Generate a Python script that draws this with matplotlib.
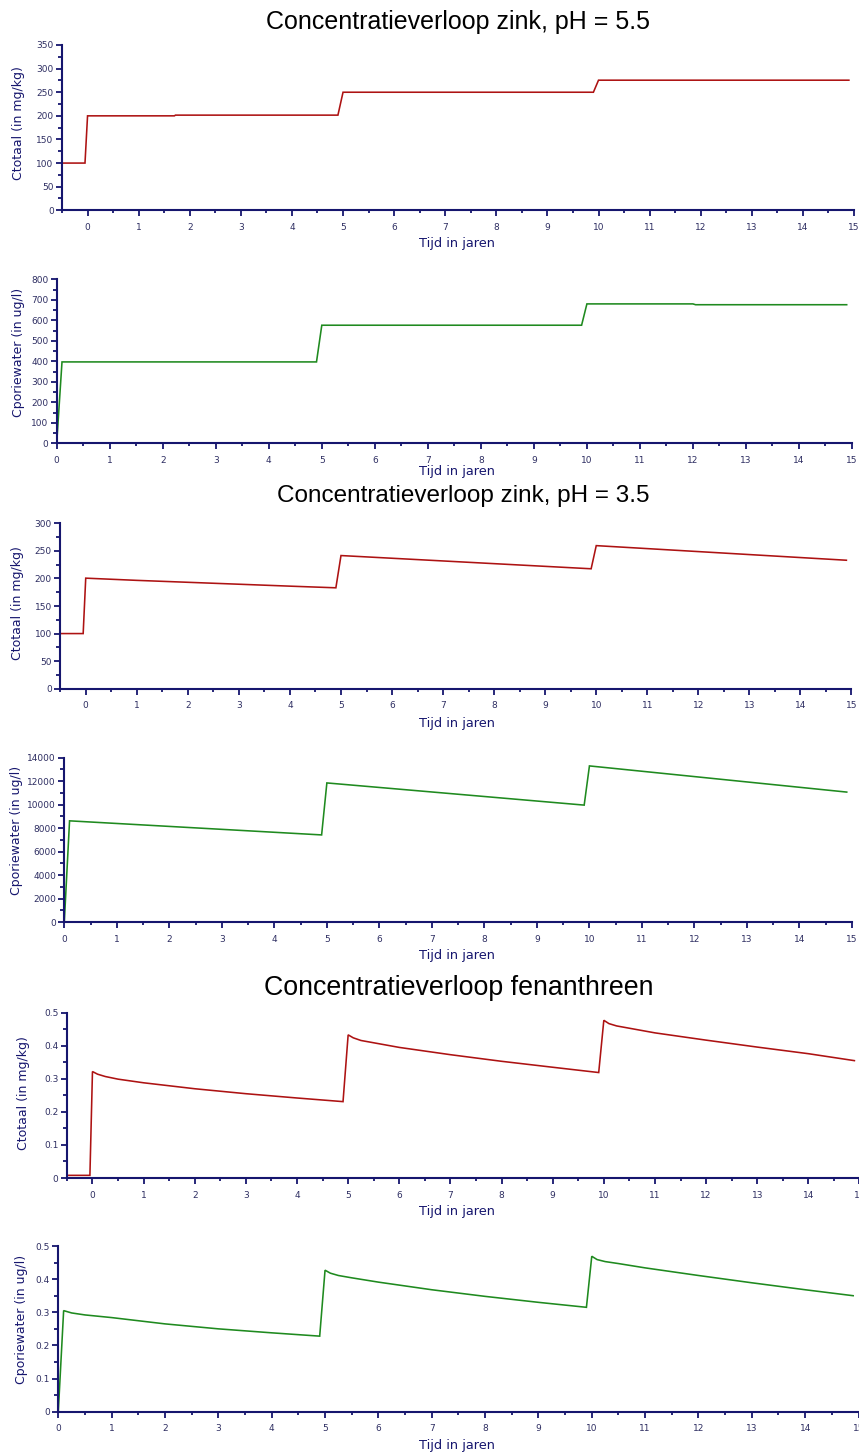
import matplotlib
matplotlib.use("Agg")
import matplotlib.pyplot as plt
from matplotlib.ticker import MultipleLocator, FuncFormatter

W, H = 859, 1455

# ---------------- data ----------------
titles = ["Concentratieverloop zink, pH = 5.5",
          "Concentratieverloop zink, pH = 3.5",
          "Concentratieverloop fenanthreen"]
xlabel = "Tijd in jaren"
ylabel_tot = "Ctotaal (in mg/kg)"
ylabel_pw = "Cporiewater (in ug/l)"

t_zn55_tot = [-0.5, -0.05, 0.0, 1.7, 1.72, 4.9, 5.0, 9.9, 10.0, 14.9]
c_zn55_tot = [100, 100, 200, 200, 201.5, 201.5, 250, 250, 275.5, 275.5]

t_zn55_pw = [0.0, 0.1, 4.9, 5.0, 9.9, 10.0, 12.0, 12.05, 14.9]
c_zn55_pw = [0, 397, 397, 576, 576, 680, 680, 676, 676]

t_zn35_tot = [-0.5, -0.05, 0.0, 1, 2, 3, 4, 4.9, 5.0, 9.9, 10.0, 14.9]
c_zn35_tot = [100, 100, 200.5, 196.5, 193, 189.5, 186, 183, 241.5, 217.5, 259.5, 233]

t_zn35_pw = [0.0, 0.1, 4.9, 5.0, 9.9, 10.0, 14.9]
c_zn35_pw = [0, 8620, 7420, 11850, 9960, 13300, 11070]

t_fen_tot = [-0.5, -0.05, 0.0, 0.1, 0.25, 0.5, 1, 2, 3, 4, 4.9,
             5.0, 5.1, 5.25, 5.5, 6, 7, 8, 9, 9.9,
             10.0, 10.1, 10.25, 10.5, 11, 12, 13, 14, 14.9]
c_fen_tot = [0.008, 0.008, 0.322, 0.314, 0.307, 0.299, 0.288, 0.270, 0.255, 0.242, 0.231,
             0.433, 0.424, 0.416, 0.409, 0.395, 0.373, 0.353, 0.335, 0.319,
             0.477, 0.467, 0.460, 0.453, 0.439, 0.417, 0.396, 0.376, 0.355]

t_fen_pw = [0.0, 0.1, 0.25, 0.5, 1, 2, 3, 4, 4.9,
            5.0, 5.1, 5.25, 5.5, 6, 7, 8, 9, 9.9,
            10.0, 10.1, 10.25, 10.5, 11, 12, 13, 14, 14.9]
c_fen_pw = [0, 0.305, 0.298, 0.292, 0.284, 0.265, 0.250, 0.238, 0.228,
            0.427, 0.418, 0.411, 0.404, 0.391, 0.368, 0.348, 0.330, 0.315,
            0.469, 0.459, 0.453, 0.447, 0.434, 0.411, 0.389, 0.368, 0.350]

# ---------------- style ----------------
RED = "#ad1212"
GREEN = "#1f8a1f"
NAVY = "#16166e"
TICKC = "#2e2e62"

fig = plt.figure(figsize=(W / 100, H / 100), dpi=100)
fig.patch.set_facecolor("white")


def px_axes(left, right, top, bottom):
    return fig.add_axes([left / W, 1 - bottom / H, (right - left) / W, (bottom - top) / H])


panels = [
    dict(box=(62, 854, 45, 210.3), t=t_zn55_tot, c=c_zn55_tot, col=RED, xlim=(-0.5, 15),
         ylim=(0, 350), ymaj=50, ymin=25, yl=ylabel_tot, ylp=(19, 123), xly=244),
    dict(box=(56.7, 852, 279.3, 443.3), t=t_zn55_pw, c=c_zn55_pw, col=GREEN, xlim=(0, 15),
         ylim=(0, 800), ymaj=100, ymin=50, yl=ylabel_pw, ylp=(19, 352), xly=472),
    dict(box=(60.2, 851.5, 523.3, 688.7), t=t_zn35_tot, c=c_zn35_tot, col=RED, xlim=(-0.5, 15),
         ylim=(0, 300), ymaj=50, ymin=25, yl=ylabel_tot, ylp=(17.5, 603), xly=723),
    dict(box=(64.3, 852, 757.7, 922), t=t_zn35_pw, c=c_zn35_pw, col=GREEN, xlim=(0, 15),
         ylim=(0, 14000), ymaj=2000, ymin=1000, yl=ylabel_pw, ylp=(17, 830), xly=956),
    dict(box=(66.9, 859.5, 1012.7, 1178), t=t_fen_tot, c=c_fen_tot, col=RED, xlim=(-0.5, 15),
         ylim=(0, 0.5), ymaj=0.1, ymin=0.05, yl=ylabel_tot, ylp=(24, 1093), xly=1212),
    dict(box=(58.3, 858.5, 1246, 1411.7), t=t_fen_pw, c=c_fen_pw, col=GREEN, xlim=(0, 15),
         ylim=(0, 0.5), ymaj=0.1, ymin=0.05, yl=ylabel_pw, ylp=(22, 1319), xly=1445),
]

fmt = FuncFormatter(lambda v, pos: f"{v:g}")

for p in panels:
    ax = px_axes(*p["box"])
    ax.plot(p["t"], p["c"], color=p["col"], lw=1.15, solid_joinstyle="miter")
    ax.set_xlim(*p["xlim"])
    ax.set_ylim(*p["ylim"])
    for s in ("top", "right"):
        ax.spines[s].set_visible(False)
    for s in ("left", "bottom"):
        ax.spines[s].set_color(NAVY)
        ax.spines[s].set_linewidth(1.5)
    ax.xaxis.set_major_locator(MultipleLocator(1))
    ax.xaxis.set_minor_locator(MultipleLocator(0.5))
    ax.yaxis.set_major_locator(MultipleLocator(p["ymaj"]))
    ax.yaxis.set_minor_locator(MultipleLocator(p["ymin"]))
    ax.tick_params(axis="both", which="both", direction="out", colors=NAVY,
                   labelcolor=TICKC, labelsize=6.5, width=1.3)
    ax.tick_params(axis="x", which="major", length=4, pad=5)
    ax.tick_params(axis="x", which="minor", length=2.5)
    ax.tick_params(axis="y", which="major", length=4, pad=2)
    ax.tick_params(axis="y", which="minor", length=3)
    ax.yaxis.set_major_formatter(fmt)
    ax.xaxis.set_major_formatter(fmt)
    for lab in ax.get_xticklabels() + ax.get_yticklabels():
        lab.set_family("DejaVu Sans")
    xl, yl = p["ylp"]
    fig.text(xl / W, 1 - yl / H, p["yl"], rotation=90, ha="center", va="center",
             color=NAVY, fontsize=9, family="DejaVu Sans")
    fig.text(457 / W, 1 - p["xly"] / H, xlabel, ha="center", va="center",
             color=NAVY, fontsize=9.3, family="DejaVu Sans")

title_pos = [(458, 22), (463, 496), (459, 988)]
title_size = [18, 17.5, 19.3]
for txt, (tx, ty), fs in zip(titles, title_pos, title_size):
    fig.text(tx / W, 1 - ty / H, txt, ha="center", va="center", color="black",
             fontsize=fs, family=["Liberation Sans", "DejaVu Sans"])

fig.savefig("out.png", dpi=100, facecolor="white")
